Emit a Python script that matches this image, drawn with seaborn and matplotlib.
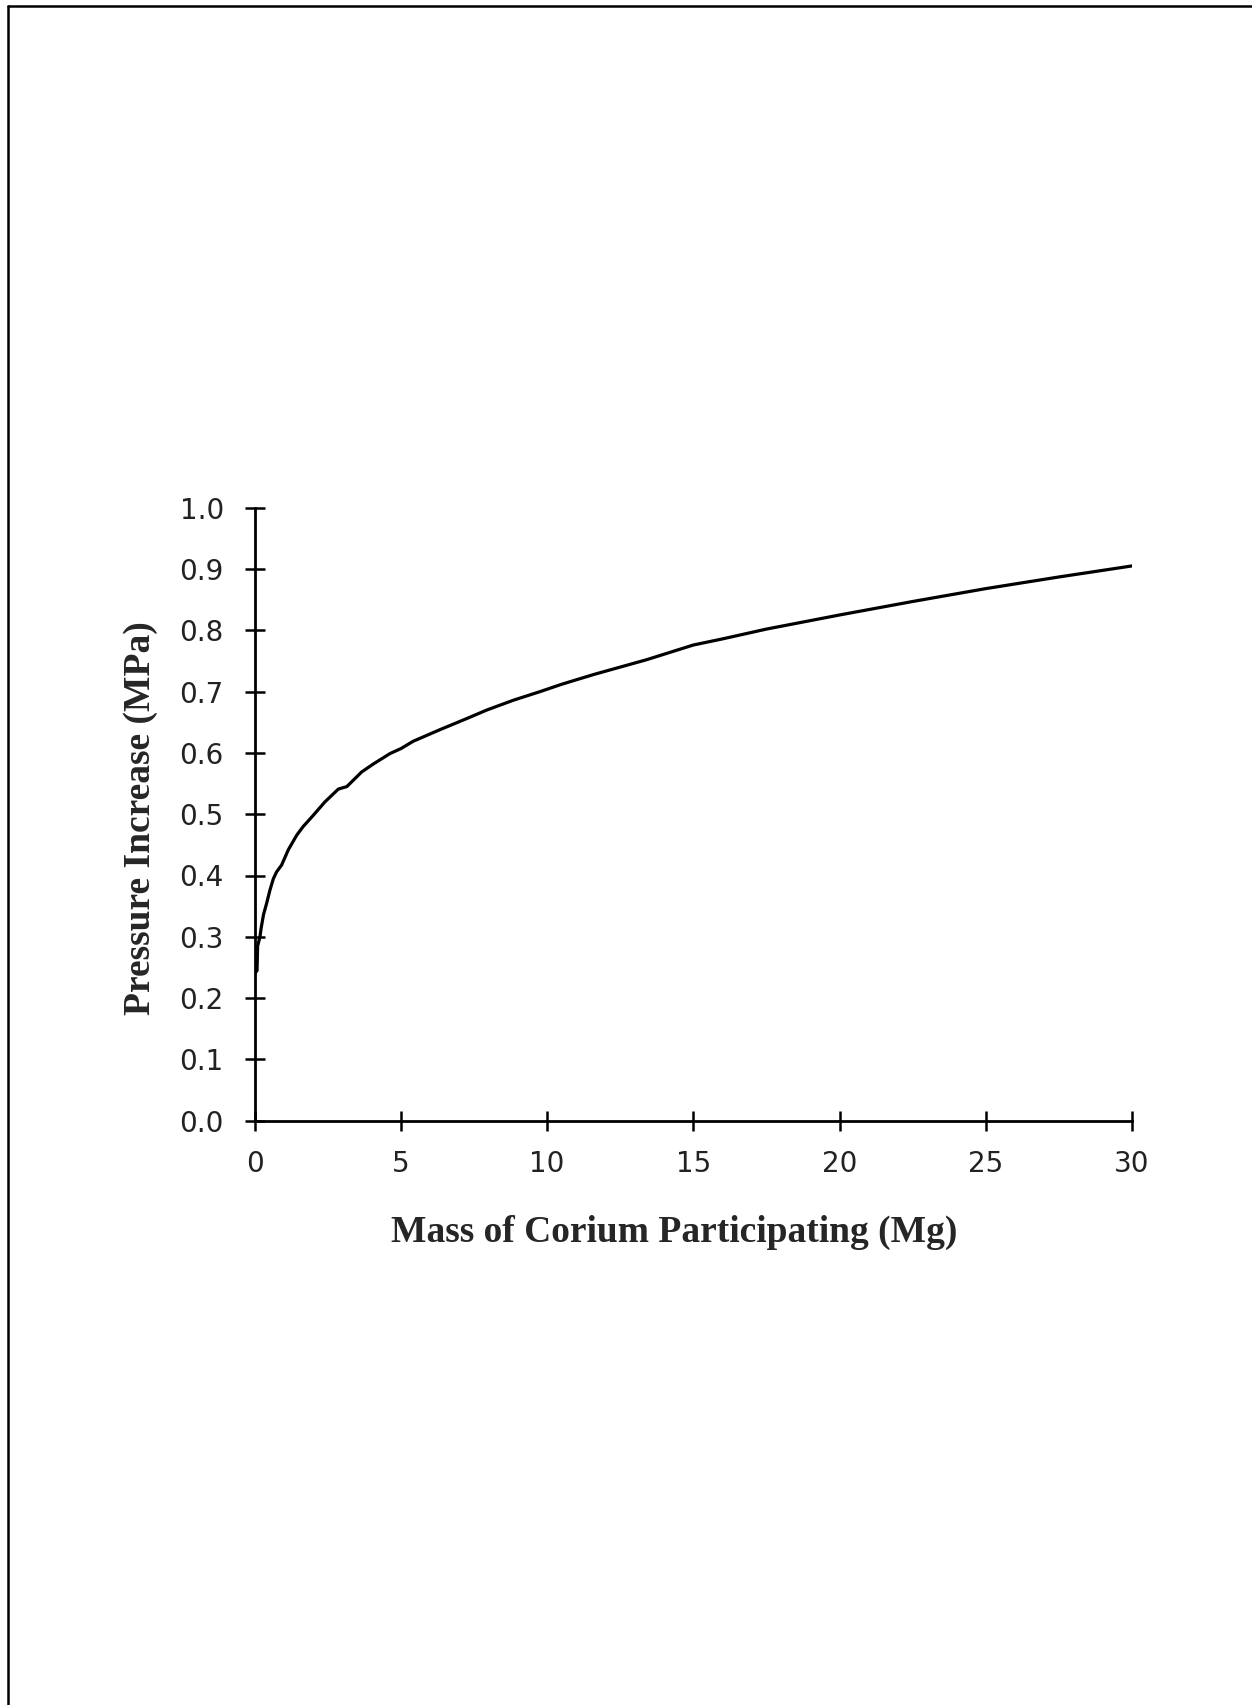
import matplotlib
matplotlib.use("Agg")
import matplotlib.pyplot as plt
import seaborn as sns
import pandas as pd
from matplotlib.lines import Line2D

# ------------------------
# Data
# ------------------------
mass_mg = [0.0, 0.08, 0.10, 0.18, 0.22, 0.30, 0.41, 0.52, 0.64, 0.75, 0.92,
           1.15, 1.44, 1.66, 2.0, 2.4, 2.86, 3.15, 3.66, 4.06, 4.63, 5.0,
           5.42, 6.34, 7.25, 7.94, 8.85, 9.76, 10.5, 11.6, 12.5, 13.4, 15.0,
           16.0, 17.5, 20.0, 22.5, 25.0, 27.5, 30.0]
pressure_mpa = [0.24, 0.245, 0.285, 0.30, 0.314, 0.336, 0.355, 0.376, 0.395,
                0.406, 0.417, 0.442, 0.466, 0.480, 0.498, 0.520, 0.541, 0.545,
                0.569, 0.582, 0.599, 0.607, 0.619, 0.638, 0.656, 0.670, 0.686,
                0.700, 0.712, 0.728, 0.740, 0.752, 0.776, 0.786, 0.802, 0.825,
                0.847, 0.868, 0.887, 0.905]

x_ticks = [0, 5, 10, 15, 20, 25, 30]
y_ticks = [0.0, 0.1, 0.2, 0.3, 0.4, 0.5, 0.6, 0.7, 0.8, 0.9, 1.0]

df = pd.DataFrame({'mass': mass_mg, 'pressure': pressure_mpa})

# ------------------------
# Plot
# ------------------------
sns.set_style("white")
plt.rcParams['font.family'] = ['DejaVu Sans']

W, H = 1252, 1705
fig = plt.figure(figsize=(W / 100, H / 100), dpi=100)
ax = fig.add_axes([254.7 / W, 1 - 1120.7 / H, (1132 - 254.7) / W, (1120.7 - 507.7) / H])

sns.lineplot(data=df, x='mass', y='pressure', ax=ax, color='black', linewidth=2.3)

ax.set_xlim(0, 30)
ax.set_ylim(0, 1.0)
ax.set_xticks(x_ticks)
ax.set_yticks(y_ticks)
ax.set_xticklabels([str(t) for t in x_ticks])
ax.set_yticklabels([f"{t:.1f}" for t in y_ticks])

for side in ['top', 'right']:
    ax.spines[side].set_visible(False)
for side in ['left', 'bottom']:
    ax.spines[side].set_color('black')
    ax.spines[side].set_linewidth(2.0)

ax.tick_params(axis='both', direction='inout', length=14.4, width=1.8,
               colors='black', labelsize=20, pad=15, bottom=True, left=True)
ax.tick_params(axis='x', pad=14)
for lab in ax.get_xticklabels() + ax.get_yticklabels():
    lab.set_color('#222222')

ax.set_xlabel("Mass of Corium Participating (Mg)", family='Liberation Serif',
              fontweight='bold', fontsize=27)
ax.set_ylabel("Pressure Increase (MPa)", family='Liberation Serif',
              fontweight='bold', fontsize=27)
ax.xaxis.set_label_coords(0.478, -0.153)
ax.yaxis.set_label_coords(-0.11, 0.493)
ax.grid(False)

# page frame (top and left edges only)
fig.add_artist(Line2D([8 / W, 8 / W], [0, 1 - 6 / H], transform=fig.transFigure,
                      color='black', linewidth=1.8))
fig.add_artist(Line2D([8 / W, 1], [1 - 6 / H, 1 - 6 / H], transform=fig.transFigure,
                      color='black', linewidth=1.8))

fig.savefig('out.png', dpi=100, facecolor='white')
